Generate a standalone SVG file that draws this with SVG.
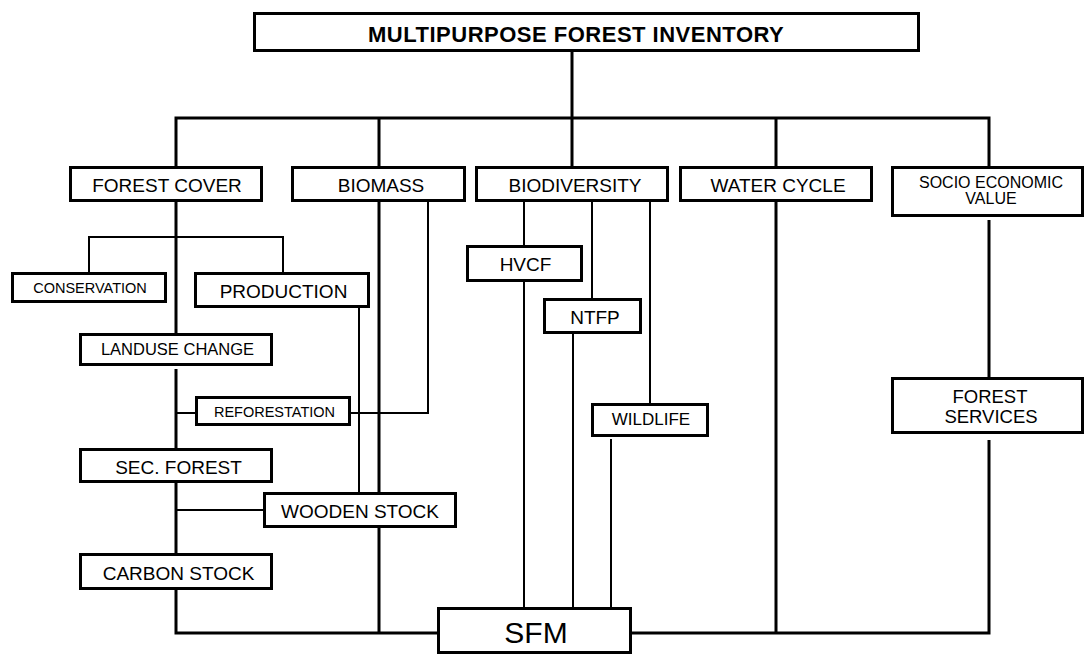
<svg xmlns="http://www.w3.org/2000/svg" width="1085" height="655" viewBox="0 0 1085 655">
<style>
.box{fill:#fff;stroke:#000;stroke-width:3}
.t{font-family:"Liberation Sans",Arial,sans-serif;fill:#000;text-anchor:middle;font-size:19px}
.thick{fill:none;stroke:#000;stroke-width:3}
.thin{fill:none;stroke:#000;stroke-width:2}
</style>
<rect width="1085" height="655" fill="#fff"/>
<g id="connectors">
<path class="thick" d="M572,52V118"/>
<path class="thick" d="M176,166V118H989V166" stroke-width="3.5"/>
<path class="thick" d="M379,118V166M572,118V166M776,118V166"/>
<path class="thick" d="M176,202V333M176,369V448M176,483V553M176,590V633H437"/>
<path class="thick" d="M379,202V492M379,528V633"/>
<path class="thick" d="M776,202V633"/>
<path class="thick" d="M989,220V377M989,440V633H632"/>
<path class="thin" d="M89,272V237H283V272"/>
<path class="thin" d="M428,202V413H351"/>
<path class="thin" d="M176,413H195"/>
<path class="thin" d="M359,308V492"/>
<path class="thin" d="M176,510H263"/>
<path class="thin" d="M524,202V245M524,282V607"/>
<path class="thin" d="M592,202V298M573,334V607"/>
<path class="thin" d="M650,202V403M611,439V607"/>
</g>
<g id="n-title"><rect class="box" x="254.5" y="13.5" width="664" height="37"/><text class="t" x="368" y="42" style="text-anchor:start;font-weight:bold;font-size:22px;letter-spacing:0.5px">MULTIPURPOSE FOREST INVENTORY</text></g>
<g id="n-forestcover"><rect class="box" x="70.5" y="167.5" width="191" height="33"/><text class="t" x="167" y="192">FOREST COVER</text></g>
<g id="n-biomass"><rect class="box" x="292.5" y="167.5" width="172" height="33"/><text class="t" x="381" y="192">BIOMASS</text></g>
<g id="n-biodiversity"><rect class="box" x="476.5" y="167.5" width="191" height="33"/><text class="t" x="575" y="192">BIODIVERSITY</text></g>
<g id="n-watercycle"><rect class="box" x="680.5" y="167.5" width="191" height="33"/><text class="t" x="778" y="192">WATER CYCLE</text></g>
<g id="n-socio"><rect class="box" x="892.5" y="167.5" width="190" height="48"/><text class="t" x="991" y="188" style="font-size:16px">SOCIO ECONOMIC</text><text class="t" x="991" y="204" style="font-size:16px">VALUE</text></g>
<g id="n-conservation"><rect class="box" x="12.5" y="273.5" width="153" height="28"/><text class="t" x="90" y="293" style="font-size:14.5px">CONSERVATION</text></g>
<g id="n-production"><rect class="box" x="195.5" y="273.5" width="173" height="33"/><text class="t" x="283.5" y="298">PRODUCTION</text></g>
<g id="n-landuse"><rect class="box" x="80.5" y="334.5" width="191" height="30"/><text class="t" x="177.5" y="355" style="font-size:16.5px">LANDUSE CHANGE</text></g>
<g id="n-reforestation"><rect class="box" x="196.5" y="397.5" width="153" height="27"/><text class="t" x="274.5" y="417" style="font-size:14.5px">REFORESTATION</text></g>
<g id="n-secforest"><rect class="box" x="80.5" y="449.5" width="191" height="32"/><text class="t" x="178.5" y="474">SEC. FOREST</text></g>
<g id="n-woodenstock"><rect class="box" x="264.5" y="493.5" width="191" height="33"/><text class="t" x="360" y="518">WOODEN STOCK</text></g>
<g id="n-carbonstock"><rect class="box" x="80.5" y="554.5" width="191" height="34"/><text class="t" x="178.5" y="580">CARBON STOCK</text></g>
<g id="n-hvcf"><rect class="box" x="467.5" y="246.5" width="114" height="34"/><text class="t" x="525.5" y="271">HVCF</text></g>
<g id="n-ntfp"><rect class="box" x="544.5" y="299.5" width="96" height="33"/><text class="t" x="595" y="324">NTFP</text></g>
<g id="n-wildlife"><rect class="box" x="592.5" y="404.5" width="115" height="31"/><text class="t" x="651" y="425" style="font-size:17px">WILDLIFE</text></g>
<g id="n-forestservices"><rect class="box" x="892.5" y="378.5" width="190" height="54"/><text class="t" x="990" y="403" style="font-size:18.5px">FOREST</text><text class="t" x="991" y="423" style="font-size:18.5px">SERVICES</text></g>
<g id="n-sfm"><rect class="box" x="438.5" y="608.5" width="192" height="44"/><text class="t" x="536" y="643" style="font-size:30px">SFM</text></g>
</svg>
